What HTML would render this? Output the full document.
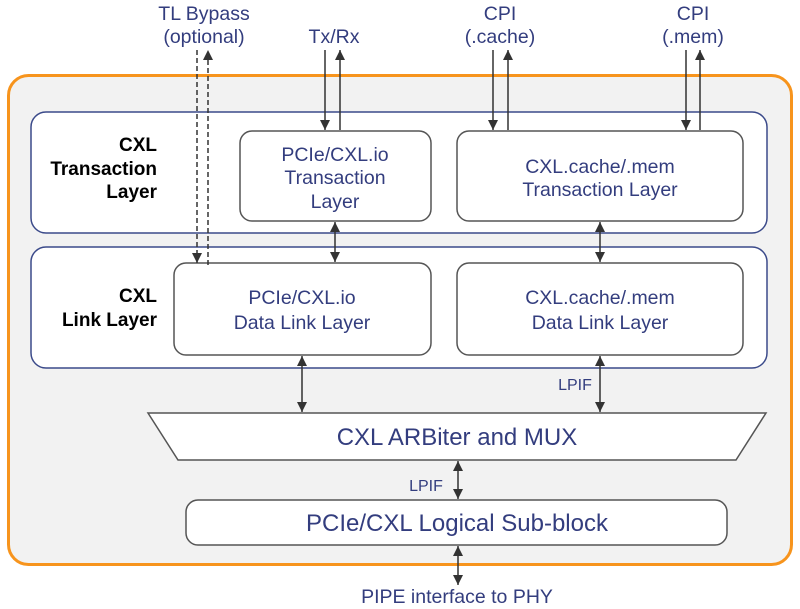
<!DOCTYPE html>
<html><head><style>html,body{margin:0;padding:0;background:#fff;}svg{display:block}</style></head>
<body>
<svg width="800" height="609" viewBox="0 0 800 609" xmlns="http://www.w3.org/2000/svg" font-family="Liberation Sans, Arial, sans-serif">
<defs>
<marker id="a" viewBox="0 0 10 10" refX="10" refY="5" markerWidth="11" markerHeight="10" markerUnits="userSpaceOnUse" orient="auto-start-reverse"><path d="M0,0 L10,5 L0,10 z" fill="#333"/></marker>
</defs>
<rect x="8.5" y="75.5" width="783" height="489" rx="20" fill="#f2f2f2" stroke="#f7941d" stroke-width="3"/>
<rect x="31" y="112" width="736" height="121" rx="15" fill="#fff" stroke="#3b4a8a" stroke-width="1.5"/>
<rect x="31" y="247" width="736" height="121" rx="15" fill="#fff" stroke="#3b4a8a" stroke-width="1.5"/>
<g fill="#fff" stroke="#555" stroke-width="1.5">
<rect x="240" y="131" width="191" height="90" rx="12"/>
<rect x="457" y="131" width="286" height="90" rx="12"/>
<rect x="174" y="263" width="257" height="92" rx="12"/>
<rect x="457" y="263" width="286" height="92" rx="12"/>
<polygon points="148,413 766,413 736,460 178,460"/>
<rect x="186" y="500" width="541" height="45" rx="12"/>
</g>
<g stroke="#333" stroke-width="1.5" fill="none">
<line x1="325" y1="50" x2="325" y2="130" marker-end="url(#a)"/>
<line x1="340" y1="130" x2="340" y2="50" marker-end="url(#a)"/>
<line x1="493" y1="50" x2="493" y2="130" marker-end="url(#a)"/>
<line x1="508" y1="130" x2="508" y2="50" marker-end="url(#a)"/>
<line x1="686" y1="50" x2="686" y2="130" marker-end="url(#a)"/>
<line x1="700" y1="130" x2="700" y2="50" marker-end="url(#a)"/>
<line x1="197" y1="50" x2="197" y2="263" stroke-dasharray="5,3" marker-end="url(#a)"/>
<line x1="208" y1="265" x2="208" y2="50" stroke-dasharray="5,3" marker-end="url(#a)"/>
<line x1="335" y1="222" x2="335" y2="262" marker-start="url(#a)" marker-end="url(#a)"/>
<line x1="600" y1="222" x2="600" y2="262" marker-start="url(#a)" marker-end="url(#a)"/>
<line x1="302" y1="356" x2="302" y2="412" marker-start="url(#a)" marker-end="url(#a)"/>
<line x1="600" y1="356" x2="600" y2="412" marker-start="url(#a)" marker-end="url(#a)"/>
<line x1="458" y1="461" x2="458" y2="499" marker-start="url(#a)" marker-end="url(#a)"/>
<line x1="458" y1="546" x2="458" y2="585" marker-start="url(#a)" marker-end="url(#a)"/>
</g>
<g fill="#333d7e" text-anchor="middle" font-size="19.5">
<text x="204" y="20">TL Bypass</text>
<text x="204" y="43">(optional)</text>
<text x="334" y="43">Tx/Rx</text>
<text x="500" y="20">CPI</text>
<text x="500" y="43">(.cache)</text>
<text x="693" y="20">CPI</text>
<text x="693" y="43">(.mem)</text>
<text x="335" y="161">PCIe/CXL.io</text>
<text x="335" y="184">Transaction</text>
<text x="335" y="208">Layer</text>
<text x="600" y="173">CXL.cache/.mem</text>
<text x="600" y="196">Transaction Layer</text>
<text x="302" y="304">PCIe/CXL.io</text>
<text x="302" y="329">Data Link Layer</text>
<text x="600" y="304">CXL.cache/.mem</text>
<text x="600" y="329">Data Link Layer</text>
<text x="457" y="445" font-size="24">CXL ARBiter and MUX</text>
<text x="457" y="531" font-size="24">PCIe/CXL Logical Sub-block</text>
<text x="457" y="603" font-size="19.5">PIPE interface to PHY</text>
<text x="575" y="390" font-size="16">LPIF</text>
<text x="426" y="491" font-size="16">LPIF</text>
</g>
<g fill="#000" text-anchor="end" font-size="19" font-weight="bold">
<text x="157" y="151">CXL</text>
<text x="157" y="175">Transaction</text>
<text x="157" y="198">Layer</text>
<text x="157" y="302">CXL</text>
<text x="157" y="326">Link Layer</text>
</g>
</svg>
</body></html>
